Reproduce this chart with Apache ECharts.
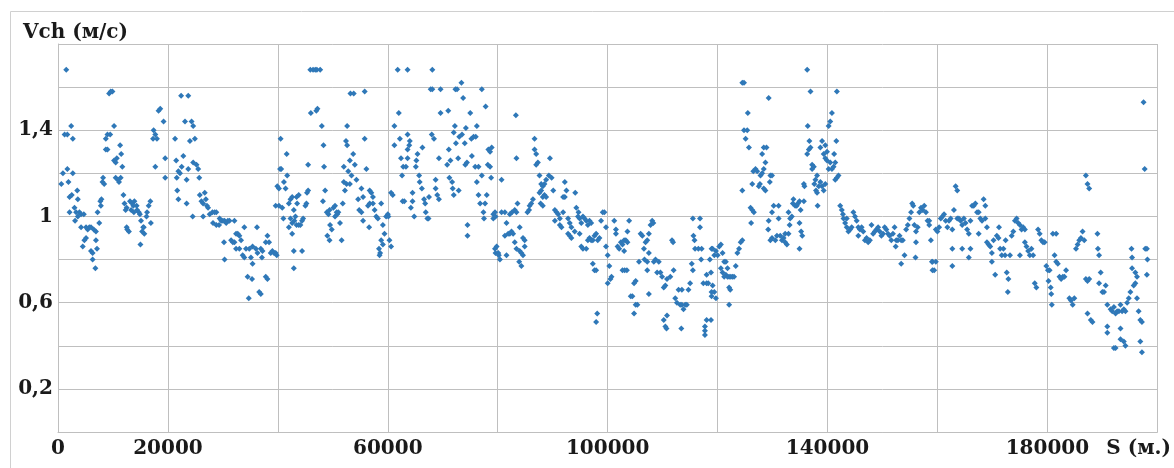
<!DOCTYPE html>
<html>
<head>
<meta charset="utf-8">
<script src="https://cdn.jsdelivr.net/npm/echarts@6/dist/echarts.min.js"></script>
<style>html,body{margin:0;padding:0;background:#fff}#c{width:1174px;height:468px}</style>
</head>
<body>
<div id="c"></div>
<script>
// S (m), Vch (m/s)
const seg0to20k = [[1500,1.68],[1200,1.38],[1700,1.38],[2400,1.42],[2700,1.36],[900,1.20],[600,1.15],[1700,1.22],[1900,1.16],[2700,1.20],[2100,1.09],[2500,1.10],[3500,1.12],[2100,1.02],[3000,1.04],[3600,1.08],[3300,1.02],[3600,1.00],[4200,1.01],[4700,1.01],[3100,0.98],[3900,1.02],[4200,0.95],[5100,0.95],[5700,0.95],[5400,0.94],[6000,0.95],[6500,0.94],[6900,0.93],[4800,0.89],[5100,0.90],[4500,0.86],[6000,0.84],[6300,0.83],[6900,0.89],[7100,0.85],[6300,0.80],[6800,0.76],[7500,0.97],[7200,1.02],[7700,1.07],[7900,1.08],[7800,1.05],[8100,1.16],[8400,1.15],[8200,1.18],[8700,1.36],[9000,1.38],[9500,1.38],[8700,1.31],[9000,1.31],[9300,1.57],[9600,1.58],[9900,1.58],[10200,1.42],[11300,1.33],[11500,1.29],[11700,1.23],[10200,1.26],[10500,1.25],[10700,1.27],[10500,1.18],[10900,1.17],[11400,1.18],[11100,1.16],[11900,1.10],[12100,1.06],[12500,1.04],[12300,1.03],[13100,1.07],[13500,1.06],[13900,1.07],[14300,1.05],[13700,1.05],[13300,1.03],[13800,1.02],[14400,1.03],[14700,1.02],[12500,0.95],[12900,0.93],[12600,0.94],[15000,0.87],[15500,0.95],[15700,0.92],[15300,0.93],[15600,0.95],[15100,0.98],[14900,1.01],[16200,1.02],[16500,1.05],[16800,1.07],[16900,0.97],[16100,1.00],[17300,1.36],[17400,1.40],[17700,1.38],[18000,1.36],[18300,1.49],[18600,1.50],[19200,1.44],[17700,1.23],[19500,1.27],[19500,1.18]];
const seg20to40k = [[21300,1.36],[22400,1.56],[23700,1.56],[23100,1.44],[24300,1.44],[24600,1.42],[24900,1.36],[24000,1.35],[22800,1.28],[23700,1.22],[22500,1.23],[21900,1.21],[21500,1.26],[23400,1.17],[21600,1.18],[22200,1.20],[21700,1.12],[21900,1.08],[23400,1.06],[24500,1.00],[26400,1.00],[24600,1.25],[25200,1.24],[25500,1.22],[25700,1.18],[25800,1.10],[26100,1.07],[26400,1.06],[26700,1.11],[26900,1.08],[27100,1.05],[27300,1.04],[27600,1.01],[28100,1.02],[28500,1.02],[28800,1.02],[28200,0.97],[28800,0.96],[29400,0.99],[29700,0.98],[30000,0.98],[30300,0.98],[30600,0.97],[30900,0.98],[31200,0.98],[32100,0.98],[29300,0.96],[30200,0.88],[30300,0.80],[31500,0.89],[31800,0.88],[32100,0.88],[32400,0.92],[32700,0.92],[33000,0.91],[33300,0.89],[33000,0.85],[32400,0.85],[33900,0.95],[33600,0.82],[34200,0.85],[34800,0.85],[35400,0.86],[36000,0.85],[36300,0.83],[36900,0.85],[37200,0.84],[37800,0.88],[38100,0.91],[38400,0.88],[38700,0.83],[39000,0.84],[36200,0.95],[35100,0.81],[33900,0.81],[35400,0.78],[37100,0.81],[34500,0.72],[35300,0.71],[34700,0.62],[36600,0.65],[36900,0.64],[37800,0.72],[38100,0.71],[39300,0.83]];
const seg40to60k = [[39600,0.83],[39800,0.82],[40500,1.36],[40400,1.22],[40600,1.22],[39900,1.14],[40200,1.13],[41100,1.16],[41400,1.13],[41700,1.19],[41600,1.29],[39600,1.05],[40200,1.05],[40800,1.04],[41000,0.99],[42000,1.06],[42300,1.08],[42600,1.09],[43400,1.09],[43800,1.10],[43500,1.06],[42900,1.03],[43200,1.00],[42300,0.99],[42600,0.97],[43000,0.98],[43400,0.96],[43800,0.96],[44100,0.96],[44400,0.98],[44600,0.99],[42000,0.95],[42600,0.92],[42900,0.84],[42900,0.76],[44400,0.84],[45000,1.05],[45200,1.06],[45300,1.11],[45500,1.12],[45500,1.24],[45900,1.68],[46400,1.68],[46800,1.68],[47100,1.68],[47700,1.68],[46000,1.48],[47000,1.49],[47200,1.50],[48000,1.42],[48300,1.33],[48400,1.23],[48600,1.12],[48200,1.07],[48900,1.02],[49200,1.01],[49400,1.03],[49500,0.96],[49800,0.94],[49000,0.91],[49400,0.89],[50100,1.04],[50400,1.05],[50700,1.02],[50800,1.01],[51000,1.02],[50400,1.00],[51300,0.97],[51600,0.89],[51800,1.06],[52600,1.42],[52400,1.35],[52600,1.33],[53100,1.26],[52800,1.21],[53700,1.29],[54000,1.24],[53400,1.19],[52000,1.23],[52000,1.16],[52500,1.15],[52200,1.12],[53100,1.15],[54300,1.17],[55200,1.13],[55500,1.09],[54600,1.08],[54800,1.03],[55200,1.02],[55500,0.98],[56400,1.05],[56600,0.95],[55800,1.36],[56100,1.22],[56700,1.12],[57000,1.11],[57300,1.09],[56700,1.06],[57300,1.06],[57600,1.03],[57900,1.00],[58200,0.99],[58800,1.06],[59100,0.96],[59400,0.92],[59700,1.00],[60000,1.01],[60100,1.00],[58800,0.89],[59100,0.87],[58400,0.85],[58600,0.83],[58500,0.82],[60300,0.89],[60600,0.86],[53200,1.57],[53800,1.57],[55800,1.58]];
const seg60to80k = [[60600,1.11],[60900,1.10],[61200,1.42],[61200,1.33],[61800,1.68],[63600,1.68],[68100,1.68],[62000,1.48],[62200,1.36],[62400,1.27],[62600,1.19],[62800,1.23],[62700,1.07],[63000,1.07],[63300,1.23],[63600,1.27],[63600,1.31],[63900,1.33],[64000,1.35],[63600,1.38],[64200,1.04],[64500,1.07],[64500,1.11],[64800,1.00],[65100,1.23],[65200,1.26],[65400,1.29],[65700,1.19],[65800,1.16],[66200,1.13],[66300,1.32],[66600,1.08],[66800,1.06],[66900,1.02],[67200,0.99],[67400,0.99],[67500,1.09],[67800,1.59],[68100,1.59],[68000,1.38],[68400,1.36],[68700,1.17],[68700,1.13],[69000,1.10],[69300,1.08],[69300,1.27],[69600,1.59],[69600,1.48],[70800,1.24],[71000,1.49],[71100,1.31],[71200,1.18],[71400,1.26],[71700,1.16],[71800,1.13],[72000,1.39],[72000,1.10],[72200,1.42],[72300,1.59],[72600,1.59],[72400,1.34],[72800,1.27],[72900,1.12],[73000,1.37],[73400,1.62],[73500,1.38],[73700,1.55],[74000,1.34],[74100,1.24],[74200,1.41],[74400,1.25],[74500,0.96],[74500,0.91],[75000,1.48],[75200,1.36],[75300,1.28],[75600,1.37],[75900,1.23],[76000,1.37],[76200,1.42],[76500,1.23],[76200,1.16],[76500,1.10],[76800,1.06],[77100,1.59],[77100,1.19],[77400,1.02],[77500,0.99],[77700,1.06],[77800,1.51],[78000,1.10],[78300,1.31],[78600,1.30],[78900,1.32],[78600,1.23],[78800,1.18],[78200,1.24],[79200,1.01],[79200,0.99],[79500,0.85],[79600,0.83]];
const seg80to100k = [[80700,1.17],[83300,1.47],[83400,1.27],[79500,1.02],[79600,1.00],[79800,0.86],[80100,0.83],[80400,0.80],[80200,0.82],[81600,0.82],[80700,1.02],[81300,1.02],[81600,0.97],[81300,0.91],[81900,0.92],[82200,0.92],[82500,0.93],[82800,0.92],[82200,1.01],[82600,1.02],[83100,1.03],[83400,1.02],[83600,1.06],[84000,0.95],[83100,0.88],[83400,0.85],[84000,0.84],[84300,0.83],[84600,0.82],[84300,0.77],[83900,0.79],[84600,0.90],[84900,0.89],[84900,0.86],[85400,1.02],[85700,1.03],[85800,1.05],[86100,1.06],[86400,1.08],[86700,1.36],[86700,1.31],[87000,1.29],[87000,1.24],[87300,1.25],[87600,1.19],[87900,1.15],[88200,1.14],[88500,1.15],[88800,1.17],[87900,1.12],[87600,1.11],[88200,1.09],[88500,1.10],[87800,1.06],[88200,1.05],[88800,1.09],[89500,1.27],[89300,1.19],[89800,1.18],[90100,1.12],[90400,1.03],[90700,1.02],[91000,1.01],[91300,0.99],[90400,0.98],[91300,0.96],[91600,0.95],[91900,1.02],[92200,1.16],[92500,1.12],[92200,1.09],[91900,1.09],[92800,0.99],[93100,0.97],[93400,0.95],[92800,0.92],[93100,0.91],[93400,0.90],[94000,0.93],[94100,1.11],[94300,1.04],[94600,1.00],[94700,1.02],[94900,0.99],[95200,0.97],[94900,0.92],[95500,1.00],[95800,0.99],[96100,0.98],[96400,0.96],[96700,0.98],[95200,0.86],[95500,0.85],[96100,0.85],[96400,0.89],[96700,0.90],[97000,0.89],[97300,0.89],[97600,0.91],[97900,0.92],[98200,0.89],[98500,0.90],[98800,0.98],[99100,1.02],[99400,1.02],[97000,0.97],[97300,0.78],[97600,0.75],[97900,0.75],[98100,0.55],[97900,0.51],[99700,0.95],[99700,0.86]];
const seg100to120k = [[100000,0.82],[100300,0.77],[100000,0.69],[100500,0.71],[100700,0.72],[101200,0.98],[101500,0.94],[101500,0.92],[101800,0.86],[102100,0.85],[102400,0.88],[102700,0.87],[103000,0.84],[103000,0.89],[103300,0.89],[103600,0.88],[103900,0.98],[103600,0.93],[103100,0.75],[102700,0.75],[103500,0.75],[104800,0.69],[105100,0.70],[104500,0.63],[104200,0.63],[105100,0.59],[105400,0.59],[104800,0.55],[105700,0.79],[106000,0.92],[106300,0.91],[106600,0.85],[106700,0.80],[107200,0.79],[106900,0.88],[107200,0.89],[107500,0.92],[107800,0.96],[108100,0.98],[108300,0.97],[107500,0.83],[107200,0.75],[107500,0.64],[108400,0.79],[108700,0.80],[109300,0.79],[109600,0.74],[109000,0.74],[109900,0.72],[110200,0.67],[110500,0.68],[110800,0.71],[111400,0.72],[111700,0.89],[111900,0.88],[112000,0.75],[112300,0.62],[112600,0.60],[112900,0.66],[113200,0.59],[113500,0.59],[113800,0.57],[114100,0.59],[114400,0.59],[114700,0.66],[113500,0.66],[110200,0.52],[110500,0.49],[110700,0.48],[110800,0.54],[113400,0.48],[115000,0.69],[115300,0.78],[115500,0.75],[115600,0.91],[115800,0.89],[115500,0.99],[115900,0.85],[116500,0.85],[116800,0.99],[116800,0.95],[117100,0.85],[117000,0.80],[117400,0.69],[118000,0.69],[118300,0.69],[118600,0.80],[118900,0.85],[118900,0.65],[118000,0.73],[117700,0.49],[117700,0.47],[117700,0.45],[118000,0.52],[118900,0.63]];
const seg120to140k = [[118800,0.74],[119100,0.68],[119400,0.65],[119700,0.62],[118800,0.52],[119100,0.85],[119700,0.84],[119400,0.82],[120000,0.82],[120300,0.86],[120600,0.87],[120900,0.83],[121200,0.79],[121500,0.79],[120600,0.76],[120900,0.74],[121200,0.72],[121500,0.73],[121800,0.72],[122100,0.72],[122400,0.72],[122700,0.72],[123000,0.72],[121800,0.76],[123300,0.77],[122100,0.67],[122300,0.66],[122100,0.59],[123600,0.83],[123900,0.85],[124200,0.88],[124500,0.89],[124500,1.12],[124800,1.40],[125100,1.36],[125400,1.40],[125500,1.48],[124500,1.62],[124800,1.62],[125700,1.32],[126000,1.04],[126300,1.03],[126100,0.97],[126600,1.02],[126300,1.15],[126500,1.21],[126900,1.22],[127200,1.21],[127500,1.14],[127700,1.15],[127800,1.19],[128100,1.20],[128400,1.22],[128700,1.25],[128100,1.29],[128400,1.32],[128900,1.32],[129300,1.55],[129600,1.19],[129500,1.16],[129900,1.19],[128700,1.12],[128400,1.13],[129200,0.94],[129300,0.98],[129600,0.89],[129900,0.90],[129900,1.02],[130200,1.05],[130500,0.89],[130800,0.91],[131100,1.05],[131100,0.99],[131400,0.91],[131700,0.89],[132000,0.90],[132300,0.88],[132600,0.87],[132300,0.92],[132900,0.92],[133100,0.96],[133200,0.99],[132900,1.02],[133500,1.00],[133700,1.06],[133800,1.08],[134100,1.05],[134400,1.05],[134600,1.06],[134900,1.07],[135100,1.03],[134900,0.97],[135200,0.93],[135400,0.91],[134900,0.85],[135700,1.07],[135700,1.15],[135800,1.14],[136300,1.29],[136600,1.31],[136900,1.32],[136700,1.35],[136400,1.42],[136900,1.58],[136300,1.68],[137200,1.24],[137500,1.23],[137200,1.22],[137800,1.17],[137600,1.15],[137900,1.12],[138100,1.11],[138200,1.05],[138100,1.19],[138400,1.14],[138700,1.16],[139000,1.14],[139300,1.12],[139600,1.15],[138700,1.32],[139000,1.35],[139600,1.33],[139300,1.29],[139600,1.27],[139900,1.30],[139900,1.26]];
const seg140to160k = [[140200,1.22],[140500,1.25],[140800,1.22],[141100,1.23],[141400,1.25],[141200,1.29],[141600,1.35],[141700,1.58],[140200,1.42],[140500,1.44],[140800,1.48],[141400,1.17],[141700,1.18],[142000,1.19],[142300,1.05],[142600,1.03],[142800,1.01],[142900,0.99],[143200,0.97],[143500,0.95],[143800,0.93],[144100,0.94],[144400,0.95],[143500,0.99],[144700,1.02],[145000,1.00],[145300,0.98],[145600,0.95],[145900,0.94],[146200,0.95],[145600,0.91],[146500,0.93],[146800,0.89],[147100,0.90],[147400,0.88],[147700,0.89],[148000,0.96],[148300,0.92],[148600,0.93],[148900,0.94],[149200,0.95],[149500,0.93],[149800,0.91],[150100,0.92],[150400,0.95],[150700,0.94],[151000,0.92],[151300,0.91],[151600,0.89],[151900,0.92],[152200,0.95],[152400,0.86],[152500,0.89],[152800,0.89],[153100,0.91],[153400,0.89],[153700,0.89],[153400,0.78],[154000,0.82],[154300,0.94],[154600,0.96],[154900,0.99],[155200,1.02],[155400,1.06],[155600,1.05],[155800,0.96],[156100,0.93],[156000,0.81],[156100,0.88],[156400,0.95],[156700,1.02],[157000,1.04],[157300,1.03],[157600,1.05],[157900,1.02],[158200,0.98],[158500,0.96],[158800,0.89],[159000,0.79],[159100,0.75]];
const seg160to180k = [[158500,0.98],[159100,0.79],[159400,0.75],[159700,0.79],[159700,0.94],[160000,0.93],[160300,0.95],[160600,0.99],[160900,1.00],[161200,1.01],[161500,0.98],[161800,0.95],[162100,0.98],[162400,0.99],[162700,0.94],[163000,1.03],[162700,0.85],[162700,0.77],[163300,1.14],[163600,1.12],[163600,0.99],[163900,0.99],[164200,0.98],[164500,0.96],[164500,0.85],[164800,0.99],[165100,0.97],[165400,0.94],[165700,0.92],[165700,0.81],[166000,0.85],[166000,0.98],[166300,1.05],[166600,1.05],[166900,1.06],[167200,1.02],[167500,1.02],[167800,0.99],[168100,0.98],[168400,1.08],[168700,1.05],[168700,0.99],[169000,0.95],[167500,0.92],[169000,0.88],[169300,0.87],[169600,0.86],[169900,0.83],[169900,0.79],[170200,0.89],[170500,0.73],[170800,0.91],[171100,0.90],[171200,0.95],[171400,0.85],[171700,0.82],[172000,0.85],[172300,0.82],[172400,0.89],[172600,0.74],[172900,0.71],[172800,0.65],[173200,0.82],[173500,0.91],[173800,0.93],[174100,0.98],[174400,0.99],[174700,0.97],[175000,0.96],[175300,0.94],[175600,0.95],[175900,0.94],[175000,0.82],[175900,0.88],[176200,0.86],[176500,0.84],[176800,0.82],[177100,0.85],[177400,0.82],[177700,0.69],[178000,0.67],[178300,0.94],[178600,0.92],[178900,0.89],[179200,0.88],[179500,0.88],[179800,0.77]];
const seg180to200k = [[180100,0.75],[180200,0.70],[180400,0.75],[180600,0.67],[180700,0.64],[180800,0.59],[181000,0.92],[181600,0.92],[181300,0.82],[181600,0.79],[181900,0.78],[182200,0.72],[182500,0.71],[182800,0.72],[183100,0.72],[183400,0.75],[184000,0.62],[184300,0.61],[184600,0.59],[184900,0.62],[185200,0.85],[185500,0.87],[185800,0.89],[186100,0.90],[186400,0.93],[186700,0.89],[187000,1.19],[187300,1.15],[187600,1.13],[187000,0.71],[187300,0.70],[187600,0.71],[187300,0.55],[187900,0.52],[188200,0.51],[189100,0.92],[189200,0.85],[189400,0.82],[189700,0.74],[189400,0.69],[190000,0.65],[190300,0.65],[190600,0.68],[190900,0.59],[191500,0.57],[191800,0.56],[192100,0.58],[192400,0.55],[192700,0.56],[193000,0.56],[193300,0.59],[193600,0.56],[193900,0.57],[194200,0.56],[194500,0.60],[194800,0.62],[195100,0.65],[195300,0.85],[195400,0.81],[195400,0.76],[195700,0.68],[196000,0.69],[196300,0.72],[196000,0.74],[196300,0.62],[196600,0.56],[196900,0.52],[197200,0.51],[190900,0.49],[190900,0.46],[192100,0.39],[192400,0.39],[193300,0.48],[193300,0.43],[193900,0.42],[194200,0.40],[196900,0.42],[197200,0.37],[197500,1.53],[197700,1.22],[197800,0.85],[198100,0.85],[198200,0.80],[198100,0.73]];

const xLabelValues = [0, 20000, 60000, 100000, 140000, 180000];
const yLabelValues = [0.2, 0.6, 1.0, 1.4];
const yAxisTitle = 'Vch (м/с)';
const xAxisTitle = 'S (м.)';

const allPoints = [].concat(seg0to20k, seg20to40k, seg40to60k, seg60to80k, seg80to100k, seg100to120k, seg120to140k, seg140to160k, seg160to180k, seg180to200k);

const FONT = 'DejaVu Serif';
const chart = echarts.init(document.getElementById('c'), null, {renderer: 'canvas'});
chart.setOption({
  animation: false,
  backgroundColor: '#ffffff',
  title: {
    text: yAxisTitle, left: 18, top: 18,
    textStyle: {fontFamily: FONT, fontSize: 20, fontWeight: 'bold', color: '#1a1a1a'}
  },
  graphic: [{
    type: 'rect', silent: true,
    shape: {x: 10.5, y: 11.5, width: 1300, height: 600},
    style: {fill: 'none', stroke: '#d0d0d0', lineWidth: 1}
  }],
  grid: {left: 58, right: 9, top: 44, bottom: 36, containLabel: false},
  xAxis: {
    type: 'value', min: 0, max: 200000, interval: 20000,
    name: xAxisTitle, nameLocation: 'end', nameGap: -51,
    nameTextStyle: {fontFamily: FONT, fontSize: 20, fontWeight: 'bold', color: '#1a1a1a', verticalAlign: 'top', padding: [7, 0, 0, 0]},
    axisLine: {show: true, lineStyle: {color: '#bfbfbf', width: 1}},
    axisTick: {show: false},
    splitLine: {show: true, lineStyle: {color: '#bfbfbf', width: 1}},
    axisLabel: {
      margin: 7, fontFamily: FONT, fontSize: 20, fontWeight: 'bold', color: '#1a1a1a',
      formatter: v => xLabelValues.indexOf(v) >= 0 ? String(v) : ''
    }
  },
  yAxis: {
    type: 'value', min: 0, max: 1.8, interval: 0.2,
    axisLine: {show: true, lineStyle: {color: '#bfbfbf', width: 1}},
    axisTick: {show: false},
    splitLine: {show: true, lineStyle: {color: '#bfbfbf', width: 1}},
    axisLabel: {
      margin: 5, fontFamily: FONT, fontSize: 20, fontWeight: 'bold', color: '#1a1a1a',
      formatter: v => yLabelValues.some(t => Math.abs(t - v) < 1e-6) ? String(+v.toFixed(1)).replace('.', ',') : ''
    }
  },
  series: [{
    type: 'scatter',
    symbol: 'diamond',
    symbolSize: 6,
    itemStyle: {color: '#2f78b8', opacity: 1},
    data: allPoints
  }]
});
</script>
</body>
</html>
